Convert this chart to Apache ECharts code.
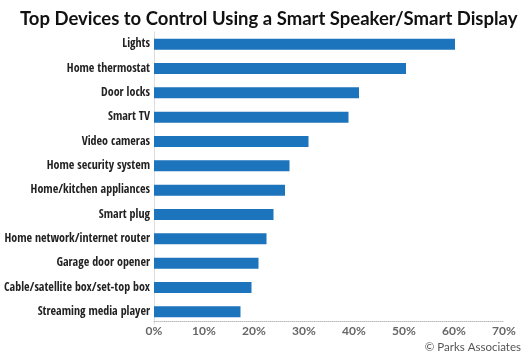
<!DOCTYPE html>
<html>
<head>
<meta charset="utf-8">
<script src="https://cdn.jsdelivr.net/npm/echarts@6/dist/echarts.min.js"></script>
<style>html,body{margin:0;padding:0;background:#fff}#c{width:530px;height:356px}</style>
</head>
<body>
<div id="c"></div>
<script>
const categories = [
  "Lights",
  "Home thermostat",
  "Door locks",
  "Smart TV",
  "Video cameras",
  "Home security system",
  "Home/kitchen appliances",
  "Smart plug",
  "Home network/internet router",
  "Garage door opener",
  "Cable/satellite box/set-top box",
  "Streaming media player"
];
const values = [60.2, 50.4, 41.0, 38.9, 30.9, 27.1, 26.2, 23.9, 22.5, 20.9, 19.5, 17.3];
const titleText = "Top Devices to Control Using a Smart Speaker/Smart Display";
const sourceText = "© Parks Associates";

const chart = echarts.init(document.getElementById('c'), null, {renderer: 'canvas'});
chart.setOption({
  animation: false,
  title: {
    text: titleText,
    left: 15, top: 5,
    textStyle: {fontFamily: "Lato", fontWeight: 'bold', fontSize: 18.5, color: '#111'}
  },
  graphic: [{
    type: 'text', right: 9, top: 341,
    style: {text: sourceText, fontFamily: "Lato", fontSize: 11.5, fill: '#555'}
  }],
  grid: {left: 154, right: 26, top: 32, bottom: 32, outerBoundsMode: 'none'},
  xAxis: {
    type: 'value', min: 0, max: 70, interval: 10, offset: -3,
    axisLabel: {formatter: '{value}%', color: '#666', fontWeight: 'bold', fontSize: 12, fontFamily: "Lato", margin: 4},
    axisLine: {show: true, lineStyle: {color: '#bbb', type: 'dotted', width: 1}},
    axisTick: {show: false},
    splitLine: {show: false}
  },
  yAxis: {
    type: 'category', data: categories, inverse: true,
    axisLabel: {color: '#222', fontWeight: 'bold', fontSize: 12, fontFamily: "Open Sans Condensed", margin: 4},
    axisLine: {show: true, lineStyle: {color: '#ddd', width: 1}},
    axisTick: {show: false}
  },
  series: [{
    type: 'bar', data: values, barWidth: 11,
    itemStyle: {color: '#1c75bc'}
  }]
});
</script>
</body>
</html>
